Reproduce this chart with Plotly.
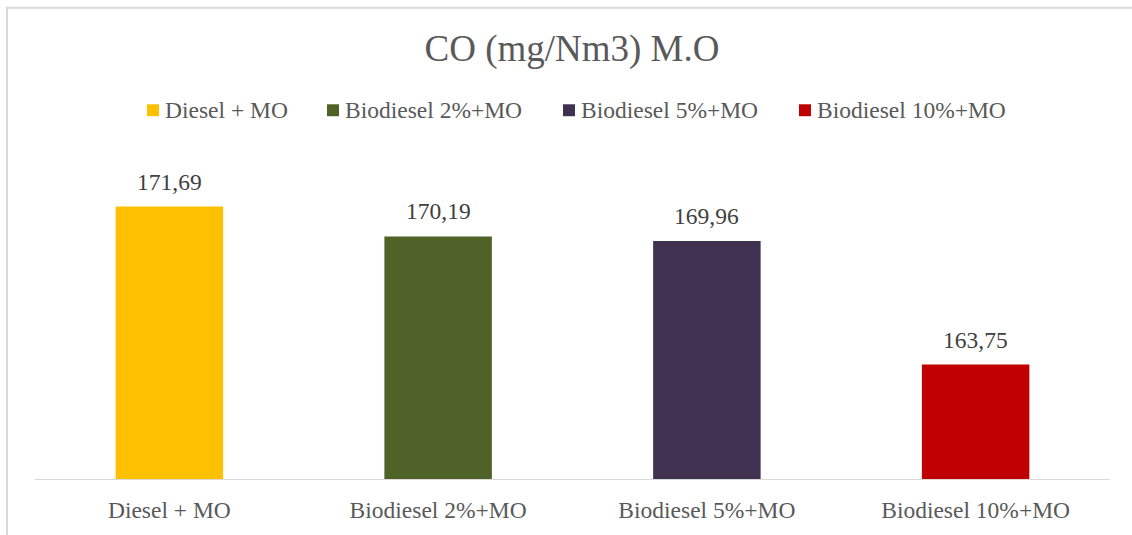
import plotly.graph_objects as go

categories = ["Diesel + MO", "Biodiesel 2%+MO", "Biodiesel 5%+MO", "Biodiesel 10%+MO"]
values = [171.69, 170.19, 169.96, 163.75]
value_labels = ["171,69", "170,19", "169,96", "163,75"]
colors = ["#FFC000", "#4F6228", "#403151", "#C00000"]
title_text = "CO (mg/Nm3) M.O"

W, H = 1132, 535
ML, MR, MT, MB = 35, 22, 150, 54
PW, PH = W - ML - MR, H - MT - MB
FONT = "Liberation Serif, Times New Roman, serif"

def px_x(p):
    return (p - ML) / PW

def px_y(p):
    return (H - MB - p) / PH

fig = go.Figure()
fig.add_trace(go.Bar(
    x=categories, y=values, marker=dict(color=colors, line=dict(width=0)),
    width=0.4, showlegend=False, hoverinfo="x+y",
))

for c, v, lab in zip(categories, values, value_labels):
    fig.add_annotation(x=c, y=v, xref="x", yref="y", text=lab, showarrow=False,
                       yanchor="bottom", yshift=10,
                       font=dict(family=FONT, size=23.5, color="#404040"))

# manual legend
marker_px = [147, 327, 563, 799]
for mx, name, col in zip(marker_px, categories, colors):
    fig.add_shape(type="rect", xref="paper", yref="paper",
                  x0=px_x(mx), x1=px_x(mx + 12), y0=px_y(116), y1=px_y(104),
                  fillcolor=col, line=dict(width=0))
    fig.add_annotation(xref="paper", yref="paper", x=px_x(mx + 16), y=px_y(110),
                       xanchor="left", yanchor="middle", text=name, showarrow=False,
                       font=dict(family=FONT, size=23.5, color="#595959"))

# chart border
fig.add_shape(type="rect", xref="paper", yref="paper",
              x0=px_x(7), x1=px_x(1145), y0=px_y(545), y1=px_y(7),
              line=dict(color="#D9D9D9", width=2), fillcolor="rgba(0,0,0,0)", layer="below")

fig.update_layout(
    width=W, height=H,
    margin=dict(l=ML, r=MR, t=MT, b=MB),
    paper_bgcolor="white", plot_bgcolor="white",
    title=dict(text=title_text, x=572 / W, xanchor="center", y=1 - 48 / H, yanchor="middle",
               font=dict(family=FONT, size=37, color="#595959")),
    xaxis=dict(showline=True, linecolor="#D9D9D9", linewidth=1, showgrid=False,
               ticks="", tickfont=dict(family=FONT, size=23.5, color="#595959"),
               ticklabelstandoff=10),
    yaxis=dict(range=[158, 174.53], visible=False, showgrid=False),
    font=dict(family=FONT),
)

fig.write_html("out.html", config={"displayModeBar": False},
               post_script="document.body.style.margin='0';document.body.style.overflow='hidden';")
